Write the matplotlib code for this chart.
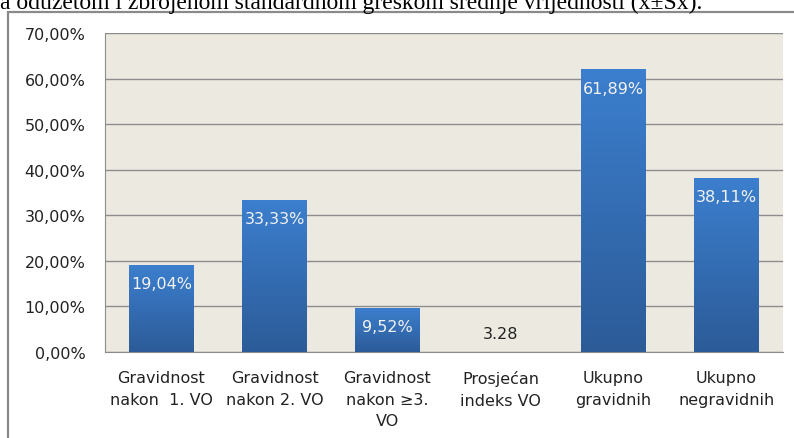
import numpy as np
import matplotlib.pyplot as plt
from matplotlib.patches import Rectangle
from matplotlib.colors import LinearSegmentedColormap

# Data
categories = ['Gravidnost\nnakon  1. VO', 'Gravidnost\nnakon 2. VO',
              'Gravidnost\nnakon \u22653.\nVO', 'Prosje\u0107an\nindeks VO',
              'Ukupno\ngravidnih', 'Ukupno\nnegravidnih']
values = [19.04, 33.33, 9.52, 0.0, 61.89, 38.11]
value_labels = ['19,04%', '33,33%', '9,52%', '3.28', '61,89%', '38,11%']
yticks = [0, 10, 20, 30, 40, 50, 60, 70]
caption = 'a oduzetom i zbrojenom standardnom greškom srednje vrijednosti (x\u00b1Sx).'

W, H = 794, 439
fig = plt.figure(figsize=(W / 100, H / 100), dpi=100)
font = ['DejaVu Sans']

# caption text cut at top (from the page)
fig.text(0 / W, 1 - 9 / H, caption, family='Liberation Serif', fontsize=17,
         va='baseline', ha='left', color='black')

# outer chart frame
fig.patches.append(Rectangle((8 / W, -0.05), 1.0, 1 - 13 / H + 0.05,
                             transform=fig.transFigure, fill=False,
                             edgecolor='#8a8a8a', lw=1.6))

ax = fig.add_axes([105 / W, 1 - 353 / H, (783 - 105) / W, (353 - 34) / H])
ax.set_facecolor('#ECEAE0')

x = np.arange(len(categories))
bw = 0.575
bars = ax.bar(x, values, width=bw, color='#3569B0', zorder=2, edgecolor='none')

cmap = LinearSegmentedColormap.from_list('g', ['#2C5B98', '#3C7FCE'])
grad = np.linspace(0, 1, 256).reshape(-1, 1)
for b in bars:
    h = b.get_height()
    if h <= 0:
        continue
    ax.imshow(grad, extent=[b.get_x(), b.get_x() + b.get_width(), 0, h],
              origin='lower', cmap=cmap, aspect='auto', zorder=3)

for b, lab in zip(bars, value_labels):
    h = b.get_height()
    cx = b.get_x() + b.get_width() / 2
    if h > 0:
        ax.annotate(lab, (cx, h), xytext=(0, -13), textcoords='offset points',
                    ha='center', va='center', color='#F2F2F2', fontsize=11.5,
                    family=font, zorder=4)
    else:
        ax.annotate(lab, (cx, 0), xytext=(0, 13), textcoords='offset points',
                    ha='center', va='center', color='#222222', fontsize=11.5,
                    family=font, zorder=4)

ax.set_xlim(-0.5, len(categories) - 0.5)
ax.set_ylim(0, 70)
ax.set_yticks(yticks)
ax.set_yticklabels([('%.2f%%' % v).replace('.', ',') for v in yticks],
                   family=font, fontsize=11.5, color='#222222')
ax.set_xticks(x)
ax.set_xticklabels(categories, family=font, fontsize=11.5, color='#222222',
                   linespacing=1.55)
ax.tick_params(axis='y', length=0, pad=14)
ax.tick_params(axis='x', length=0, pad=13)

ax.grid(axis='y', color='#8c8c8c', lw=1, zorder=1)
ax.set_axisbelow(True)
for s in ['top', 'right']:
    ax.spines[s].set_visible(False)
ax.spines['left'].set_color('#8c8c8c')
ax.spines['bottom'].set_color('#8c8c8c')

fig.savefig('out.png', dpi=100)
